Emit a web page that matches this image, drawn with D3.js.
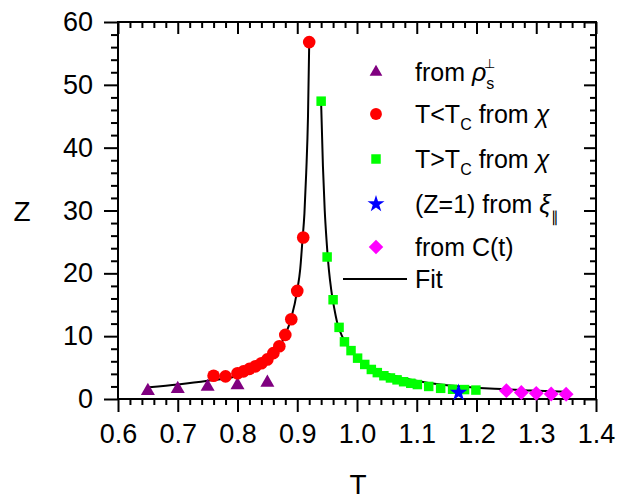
<!DOCTYPE html>
<html><head><meta charset="utf-8">
<script src="https://cdn.jsdelivr.net/npm/d3@7"></script>
<style>
body{margin:0;background:#fff;}
svg{display:block;font-family:"Liberation Sans",Arial,sans-serif;}
</style></head>
<body><svg id="c" width="619" height="499"></svg>
<script>
// ---- data ----
const rhoT  = [0.65, 0.70, 0.75, 0.80, 0.85];
const rhoZ  = [1.3, 1.6, 1.95, 2.2, 2.6];

const chiLowT = [0.76, 0.78, 0.80, 0.81, 0.82, 0.83, 0.84, 0.85, 0.86, 0.87, 0.88, 0.89, 0.90, 0.91, 0.92];
const chiLowZ = [3.7, 3.6, 4.1, 4.4, 4.8, 5.2, 5.7, 6.3, 7.3, 8.4, 10.2, 12.7, 17.2, 25.7, 56.8];

const chiHighT = [0.94, 0.95, 0.96, 0.97, 0.979, 0.99, 1.001, 1.013, 1.024, 1.034, 1.045, 1.056, 1.067, 1.078, 1.090, 1.101, 1.120, 1.140, 1.160, 1.180, 1.199];
const chiHighZ = [47.4, 22.6, 15.8, 11.4, 9.1, 7.7, 6.5, 5.5, 4.7, 4.2, 3.7, 3.35, 3.05, 2.75, 2.5, 2.3, 2.0, 1.7, 1.55, 1.5, 1.42];

const xiT = [1.17];
const xiZ = [1.0];

const ctT = [1.25, 1.275, 1.30, 1.325, 1.35];
const ctZ = [1.33, 1.03, 0.9, 0.8, 0.76];

const fitLowT = [0.652, 0.70, 0.75, 0.80, 0.83, 0.85, 0.86, 0.87, 0.88, 0.89, 0.90, 0.905, 0.9085, 0.912, 0.915, 0.918, 0.92];
const fitLowZ = [1.86, 2.3, 2.9, 3.7, 5.0, 6.3, 7.3, 8.3, 10.2, 12.9, 17.3, 20.7, 25.0, 29.5, 36, 45, 56.5];
const fitHighT = [0.94, 0.943, 0.946, 0.949, 0.953, 0.957, 0.962, 0.967, 0.975, 0.989, 1.003, 1.02, 1.036, 1.06, 1.09, 1.12, 1.15, 1.18, 1.23, 1.29, 1.35];
const fitHighZ = [47.0, 37, 30, 25.3, 20.5, 17.3, 14.4, 12.1, 10.0, 7.8, 6.3, 5.2, 4.5, 3.75, 3.05, 2.55, 2.2, 1.95, 1.62, 1.37, 1.17];

const xTicks = [0.6, 0.7, 0.8, 0.9, 1.0, 1.1, 1.2, 1.3, 1.4];
const yTicks = [0, 10, 20, 30, 40, 50, 60];
const xLabel = "T";
const yLabel = "Z";

// ---- drawing ----
const svg = d3.select("#c");
const L = 118, R = 596, T = 22, B = 399;
const x = d3.scaleLinear().domain([0.6, 1.4]).range([L, R]);
const y = d3.scaleLinear().domain([0, 60]).range([B, T]);

const xMinor = d3.range(30, 71, 1).filter(v => v % 5 !== 0).map(v => v / 50);
const yMinor = d3.range(0, 61, 2).filter(v => v % 10 !== 0);

const fs = 27;
function styleAxis(g, showText) {
  g.select(".domain").remove();
  g.selectAll("line").attr("stroke", "#000").attr("stroke-width", 2);
  if (showText) g.selectAll("text").attr("font-size", fs).attr("fill", "#000")
    .attr("font-family", '"Liberation Sans",Arial,sans-serif');
  else g.selectAll("text").remove();
}
// bottom
svg.append("g").attr("transform", `translate(0,${B})`)
  .call(d3.axisBottom(x).tickValues(xTicks).tickFormat(d3.format(".1f")).tickSize(13).tickPadding(12))
  .call(g => styleAxis(g, true));
svg.append("g").attr("transform", `translate(0,${B})`)
  .call(d3.axisBottom(x).tickValues(xMinor).tickSize(6)).call(g => styleAxis(g, false));
// top (inward)
svg.append("g").attr("transform", `translate(0,${T})`)
  .call(d3.axisBottom(x).tickValues(xTicks).tickSize(12)).call(g => styleAxis(g, false));
svg.append("g").attr("transform", `translate(0,${T})`)
  .call(d3.axisBottom(x).tickValues(xMinor).tickSize(6)).call(g => styleAxis(g, false));
// left
svg.append("g").attr("transform", `translate(${L},0)`)
  .call(d3.axisLeft(y).tickValues(yTicks).tickFormat(d3.format("d")).tickSize(14).tickPadding(11))
  .call(g => styleAxis(g, true));
svg.append("g").attr("transform", `translate(${L},0)`)
  .call(d3.axisLeft(y).tickValues(yMinor).tickSize(7)).call(g => styleAxis(g, false));
// right (inward)
svg.append("g").attr("transform", `translate(${R},0)`)
  .call(d3.axisLeft(y).tickValues(yTicks).tickSize(12)).call(g => styleAxis(g, false));
svg.append("g").attr("transform", `translate(${R},0)`)
  .call(d3.axisLeft(y).tickValues(yMinor).tickSize(6)).call(g => styleAxis(g, false));

svg.append("rect").attr("x", L).attr("y", T).attr("width", R - L).attr("height", B - T)
  .attr("fill", "none").attr("stroke", "#000").attr("stroke-width", 2);

// axis titles
svg.append("text").attr("x", x(1.0) + 1).attr("y", 494).attr("text-anchor", "middle")
  .attr("font-size", 28).text(xLabel);
svg.append("text").attr("x", 22).attr("y", y(30) + 10).attr("text-anchor", "middle")
  .attr("font-size", 28).text(yLabel);

// fit lines
const line = d3.line().x(d => x(d[0])).y(d => y(d[1])).curve(d3.curveMonotoneX);
[[fitLowT, fitLowZ], [fitHighT, fitHighZ]].forEach(([tt, zz]) => {
  svg.append("path").attr("d", line(tt.map((t, i) => [t, zz[i]])))
    .attr("fill", "none").attr("stroke", "#000").attr("stroke-width", 2);
});

// markers
const series = [
  {t: rhoT, z: rhoZ, sym: d3.symbolTriangle, size: 85, color: "#800080", rot: 0, lsize: 70},
  {t: chiLowT, z: chiLowZ, sym: d3.symbolCircle, size: 125, color: "#ff0000", rot: 0, lsize: 110},
  {t: chiHighT, z: chiHighZ, sym: d3.symbolSquare, size: 90, color: "#00ff00", rot: 0, lsize: 90},
  {t: xiT, z: xiZ, sym: d3.symbolStar, size: 95, color: "#0000ff", rot: 0, lsize: 90},
  {t: ctT, z: ctZ, sym: d3.symbolSquare, size: 110, color: "#ff00ff", rot: 45, lsize: 105},
];
series.forEach(s => {
  const p = d3.symbol().type(s.sym).size(s.size)();
  svg.append("g").selectAll("path").data(s.t.map((t, i) => [t, s.z[i]])).join("path")
    .attr("d", p)
    .attr("transform", d => `translate(${x(d[0])},${y(d[1])}) rotate(${s.rot})`)
    .attr("fill", s.color);
});

// legend
const lg = svg.append("g");
const lx = 376, tx = 415;
const rows = [72, 114, 159, 204, 247];
series.forEach((s, i) => {
  lg.append("path").attr("d", d3.symbol().type(s.sym).size(s.lsize)())
    .attr("transform", `translate(${lx},${rows[i]}) rotate(${s.rot})`).attr("fill", s.color);
});
const lfs = 25;
function ltext(yy) {
  return lg.append("text").attr("x", tx).attr("y", yy + 9).attr("font-size", lfs);
}
let t0 = ltext(rows[0]);
t0.append("tspan").text("from ");
t0.append("tspan").attr("font-style", "italic").text("ρ");
t0.append("tspan").attr("font-size", 13).attr("dy", -13).attr("dx", -2).text("⊥");
t0.append("tspan").attr("font-size", 16).attr("dy", 21).attr("dx", -9).text("s");

let t1 = ltext(rows[1]);
t1.append("tspan").text("T<T");
t1.append("tspan").attr("font-size", 16).attr("dy", 7).text("C");
t1.append("tspan").attr("dy", -7).text(" from ");
t1.append("tspan").attr("font-style", "italic").text("χ");

let t2 = ltext(rows[2]);
t2.append("tspan").text("T>T");
t2.append("tspan").attr("font-size", 16).attr("dy", 7).text("C");
t2.append("tspan").attr("dy", -7).text(" from ");
t2.append("tspan").attr("font-style", "italic").text("χ");

let t3 = ltext(rows[3]);
t3.append("tspan").text("(Z=1) from ");
t3.append("tspan").attr("font-style", "italic").text("ξ");
t3.append("tspan").attr("font-size", 15).attr("dy", 9).text("∥");

let t4 = ltext(rows[4]);
t4.text("from C(t)");

lg.append("line").attr("x1", 343).attr("x2", 407).attr("y1", 279).attr("y2", 279)
  .attr("stroke", "#000").attr("stroke-width", 2);
lg.append("text").attr("x", tx).attr("y", 279 + 9).attr("font-size", lfs).text("Fit");
</script></body></html>
